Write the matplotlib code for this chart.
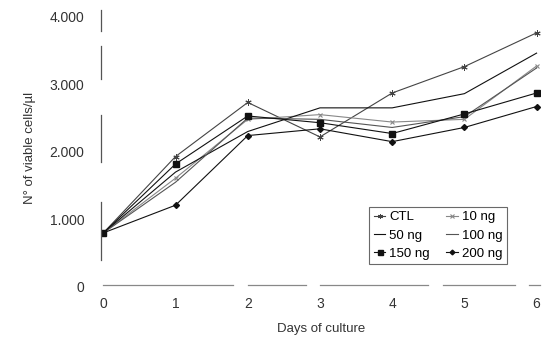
import matplotlib.pyplot as plt

plt.rcParams['font.family'] = ['Liberation Sans', 'DejaVu Sans']

days = [0, 1, 2, 3, 4, 5, 6]

ctl = [800, 1930, 2730, 2220, 2870, 3260, 3760]
ng10 = [800, 1610, 2480, 2550, 2440, 2480, 3270]
ng50 = [800, 1700, 2300, 2650, 2650, 2860, 3460]
ng100 = [800, 1550, 2500, 2480, 2360, 2520, 3240]
ng150 = [800, 1820, 2530, 2430, 2270, 2560, 2870]
ng200 = [800, 1210, 2240, 2340, 2150, 2360, 2670]

y_ticks = [0, 1000, 2000, 3000, 4000]
y_labels = ['0', '1.000', '2.000', '3.000', '4.000']

fig = plt.figure(figsize=(5.44, 3.4), dpi=100)
ax = fig.add_axes([0.186, 0.156, 0.807, 0.815])

lw = 0.8
h_ctl, = ax.plot(days, ctl, color='#444444', lw=lw, marker=(6, 2, 0), ms=4.5, mew=0.7, label='CTL')
h_10, = ax.plot(days, ng10, color='#888888', lw=lw, marker='x', ms=3.5, mew=0.8, label='10 ng')
h_50, = ax.plot(days, ng50, color='#111111', lw=lw, label='50 ng')
h_100, = ax.plot(days, ng100, color='#555555', lw=lw, label='100 ng')
h_150, = ax.plot(days, ng150, color='#111111', lw=lw, marker='s', ms=4.5, label='150 ng')
h_200, = ax.plot(days, ng200, color='#111111', lw=lw, marker='D', ms=3, label='200 ng')

ax.set_xlim(-0.03, 6.05)
ax.set_ylim(0, 4100)

for s in ax.spines.values():
    s.set_visible(False)

# broken y axis line, as in the scan
for lo, hi in [(400, 1250), (1850, 2550), (3080, 3560), (3780, 4100)]:
    ax.plot([-0.03, -0.03], [lo, hi], color='#555555', lw=0.9, clip_on=False)
# broken x axis line
for lo, hi in [(0.0, 1.8), (2.0, 2.8), (3.0, 4.5), (4.7, 5.7), (5.9, 6.05)]:
    ax.plot([lo, hi], [30, 30], color='#888888', lw=0.9, clip_on=False)

ax.set_yticks(y_ticks)
ax.set_yticklabels(y_labels)
ax.set_xticks(days)
ax.tick_params(length=0, labelsize=10, labelcolor='#333333')
ax.tick_params(axis='y', pad=12)
ax.tick_params(axis='x', pad=7)

ax.set_ylabel('N° of viable cells/µl', fontsize=9.5, color='#333333', labelpad=10)
ax.set_xlabel('Days of culture', fontsize=9.5, color='#333333', labelpad=9)

# row-wise order: CTL 10 / 50 100 / 150 200
handles = [h_ctl, h_50, h_150, h_10, h_100, h_200]
leg = ax.legend(handles=handles, labels=[h.get_label() for h in handles],
                ncol=2, loc='upper left', bbox_to_anchor=(0.595, 0.314),
                fontsize=9.5, frameon=True, fancybox=False, handlelength=0.9,
                handletextpad=0.3, columnspacing=1.2, labelspacing=0.45,
                borderpad=0.35, markerscale=0.8)
leg.get_frame().set_edgecolor('#444444')
leg.get_frame().set_linewidth(0.8)

fig.savefig('out.png', dpi=100)
